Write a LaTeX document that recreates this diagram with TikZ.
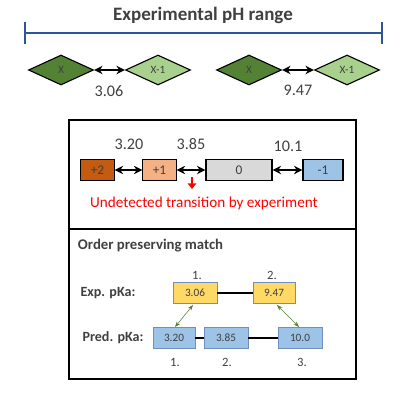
\documentclass[tikz,border=0pt]{standalone}
\usepackage{fontspec}
\setmainfont{Carlito}
\usetikzlibrary{shapes.geometric,arrows.meta}
\definecolor{rangeblue}{HTML}{2F5597}
\definecolor{darkgreen}{HTML}{548235}
\definecolor{lightgreen}{HTML}{A9D18E}
\definecolor{chargetwo}{HTML}{C55A11}
\definecolor{chargeone}{HTML}{F4B183}
\definecolor{chargezero}{HTML}{D9D9D9}
\definecolor{chargeneg}{HTML}{9DC3E6}
\definecolor{expyellow}{HTML}{FFD966}
\definecolor{boxedge}{HTML}{6F8FC0}
\definecolor{textgray}{HTML}{404040}
\tikzset{
    state/.style={diamond,draw,thick,minimum width=1.625cm,minimum height=0.75cm,inner sep=0pt,font=\fontsize{8}{9}\selectfont,text=textgray},
    charge/.style={draw,thick,minimum height=0.53cm,inner sep=0pt,font=\fontsize{9.5}{10}\selectfont,text=textgray},
    pka/.style={draw=boxedge,minimum height=0.52cm,inner sep=0pt,font=\fontsize{8}{9}\selectfont,text=textgray},
    value/.style={font=\fontsize{11.5}{12}\selectfont,text=textgray},
    rank/.style={font=\fontsize{9}{10}\selectfont,text=textgray},
    swap/.style={line width=1.2pt,{Stealth[length=6pt,width=6pt]}-{Stealth[length=6pt,width=6pt]}}
}
\begin{document}
\begin{tikzpicture}[x=0.025cm,y=-0.025cm]
        \useasboundingbox (0,0) rectangle (400,407);
        %% pH range
        \node[font=\bfseries\fontsize{13.5}{15}\selectfont,text=textgray] (title) at (203,15) {Experimental pH range};
        \draw[rangeblue,line width=1.5pt] (25,33) -- (382,33);
        \foreach \x in {25,382}
            \draw[rangeblue,line width=1.5pt] (\x,22) -- (\x,44);
        %% Experimental transitions
        \node[state,fill=darkgreen] (xa) at (61,70) {X};
        \node[state,fill=lightgreen] (xb) at (158,70) {X-1};
        \node[state,fill=darkgreen] (xc) at (249,70) {X};
        \node[state,fill=lightgreen] (xd) at (347,70) {X-1};
        \draw[swap] (xa.east) -- (xb.west);
        \draw[swap] (xc.east) -- (xd.west);
        \node[value] (ea) at (109,91) {3.06};
        \node[value] (eb) at (298,90) {9.47};
        %% Predicted transitions
        \draw[line width=1.8pt] (69,120) rectangle (356,229);
        \node[charge,fill=chargetwo,minimum width=0.83cm] (ca) at (97.5,170) {+2};
        \node[charge,fill=chargeone,minimum width=0.83cm] (cb) at (159.5,170) {+1};
        \node[charge,fill=chargezero,minimum width=1.65cm] (cc) at (239,170) {0};
        \node[charge,fill=chargeneg,minimum width=1cm] (cd) at (323,170) {-1};
        \draw[swap] (ca.east) -- (cb.west);
        \draw[swap] (cb.east) -- (cc.west);
        \draw[swap] (cc.east) -- (cd.west);
        \node[value] (pa) at (129,144) {3.20};
        \node[value] (pb) at (191,144) {3.85};
        \node[value] (pc) at (288,146) {10.1};
        \coordinate (miss) at (192,177);
        \node[text=red,font=\fontsize{10.8}{12}\selectfont] (undetected) at (204,203) {Undetected transition by experiment};
        \draw[red,line width=1.2pt,-{Triangle[length=4pt,width=6pt]}] (miss) -- ++(0,12);
        %% Matching
        \draw[line width=1.8pt] (69,229) rectangle (356,379);
        \node[anchor=west,font=\bfseries\fontsize{10.5}{12}\selectfont,text=textgray] (match) at (73,246) {Order preserving match};
        \node[font=\bfseries\fontsize{10}{11}\selectfont,text=textgray] (exp) at (108,293) {Exp. pKa:};
        \node[font=\bfseries\fontsize{10}{11}\selectfont,text=textgray] (pred) at (113,338) {Pred. pKa:};
        \node[pka,fill=expyellow,minimum width=1.1cm] (ya) at (195,293) {3.06};
        \node[pka,fill=expyellow,minimum width=1.05cm] (yb) at (274,293) {9.47};
        \node[pka,fill=chargeneg,minimum width=1.05cm] (ba) at (174,338) {3.20};
        \node[pka,fill=chargeneg,minimum width=1.1cm] (bb) at (226,338) {3.85};
        \node[pka,fill=chargeneg,minimum width=1.1cm] (bc) at (300,338) {10.0};
        \draw[thick] (ya) -- (yb);
        \draw[thick] (ba) -- (bb);
        \draw[thick] (bb) -- (bc);
        \draw[darkgreen,{Stealth[length=4pt]}-{Stealth[length=4pt]}] (193,305) -- (175,327);
        \draw[darkgreen,{Stealth[length=4pt]}-{Stealth[length=4pt]}] (277,305) -- (299,327);
        \node[rank] (ra) at (197,275) {1.};
        \node[rank] (rb) at (272,275) {2.};
        \node[rank] (rc) at (175,362) {1.};
        \node[rank] (rd) at (227,362) {2.};
        \node[rank] (re) at (302,362) {3.};
    \end{tikzpicture}
\end{document}
